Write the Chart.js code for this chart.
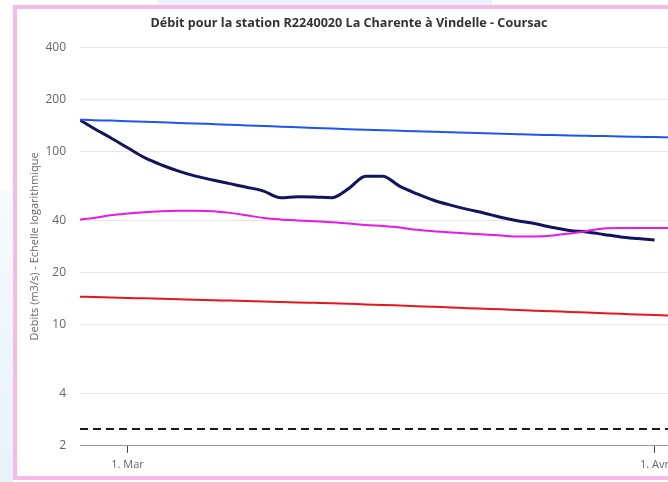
<!DOCTYPE html>
<html>
<head>
<meta charset="utf-8">
<script src="https://cdn.jsdelivr.net/npm/chart.js@4/dist/chart.umd.min.js"></script>
<style>
  html, body { margin: 0; padding: 0; background: #ffffff; overflow: hidden; width: 668px; height: 482px; }
  #bgLeft { position: absolute; left: 0; top: 190px; width: 13px; height: 292px; background: linear-gradient(#f6fbfe, #e6f2fa); }
  #bgTop { position: absolute; left: 158px; top: 0; width: 334px; height: 5px; background: #e9f4fb; }
  #wrap { position: absolute; left: 13px; top: 5px; width: 664px; height: 467px; border: 4px solid #f5b9ea; background: #ffffff; }
  canvas { display: block; }
</style>
</head>
<body>
<div id="bgLeft"></div>
<div id="bgTop"></div>
<div id="wrap"><canvas id="c" width="664" height="467"></canvas></div>
<script>
// Days relative to 1 March
const days = [-2.8, -2, -1, 0, 1, 2, 3, 4, 5, 6, 7, 8, 9, 10, 11, 12, 13, 14, 15, 16, 17, 18, 19, 20, 21, 22, 23, 24, 25, 26, 27, 28, 29, 30, 31, 32, 32.4];

const debitObserve = [152, 136, 120, 105, 92, 83.5, 77, 72, 68.4, 65.2, 62.2, 59, 54, 54.8, 54.6, 54, 61, 72, 72, 63, 57, 52.3, 49, 46.3, 44, 41.6, 39.7, 38.2, 36.4, 35, 34.3, 33.2, 32.1, 31.4, 30.8, null, null];

const courbeBleue = [152.5, 151.5, 150.6, 149.5, 148.3, 147.2, 146.0, 144.8, 143.8, 142.7, 141.3, 140.2, 138.9, 137.8, 136.7, 135.6, 134.5, 133.6, 132.5, 131.6, 130.7, 129.9, 129.0, 128.2, 127.3, 126.5, 125.6, 124.8, 124.3, 123.6, 123.1, 122.6, 122.0, 121.5, 121.0, 120.4, 120.2];

const courbeMagenta = [40.4, 41.3, 42.8, 43.8, 44.6, 45.1, 45.4, 45.5, 45.2, 44.2, 42.8, 41.3, 40.5, 40, 39.5, 39, 38.4, 37.6, 37.1, 36.4, 35.3, 34.6, 34.1, 33.6, 33.2, 32.7, 32.3, 32.3, 32.7, 33.6, 34.7, 35.9, 36.1, 36.1, 36.1, 36.1, 36.1];

const courbeRouge = [14.52, 14.44, 14.36, 14.27, 14.19, 14.10, 14.02, 13.95, 13.85, 13.78, 13.70, 13.61, 13.54, 13.45, 13.37, 13.29, 13.20, 13.09, 13.01, 12.90, 12.79, 12.68, 12.58, 12.46, 12.36, 12.26, 12.15, 12.05, 11.96, 11.84, 11.75, 11.65, 11.55, 11.46, 11.36, 11.27, 11.22];

const seuilPointille = [2.5, 2.5, 2.5, 2.5, 2.5, 2.5, 2.5, 2.5, 2.5, 2.5, 2.5, 2.5, 2.5, 2.5, 2.5, 2.5, 2.5, 2.5, 2.5, 2.5, 2.5, 2.5, 2.5, 2.5, 2.5, 2.5, 2.5, 2.5, 2.5, 2.5, 2.5, 2.5, 2.5, 2.5, 2.5, 2.5, 2.5];

const yTickValues = [2, 4, 10, 20, 40, 100, 200, 400];
const xTickValues = [0, 31];
const xTickLabels = ['1. Mar', '1. Avr'];

const titleText = 'Débit pour la station R2240020 La Charente à Vindelle - Coursac';
const yTitleText = 'Debits (m3/s) - Echelle logarithmique';

function pts(vals) { return days.map((d, i) => ({ x: d, y: vals[i] })); }

const FONT = "'Open Sans', 'Noto Sans', sans-serif";

new Chart(document.getElementById('c'), {
  type: 'line',
  data: {
    datasets: [
      { label: 'seuil', data: pts(seuilPointille), borderColor: '#1a1a1a', borderWidth: 2, borderDash: [8, 5], tension: 0 },
      { label: 'rouge', data: pts(courbeRouge), borderColor: '#e8151b', borderWidth: 2, cubicInterpolationMode: 'monotone' },
      { label: 'magenta', data: pts(courbeMagenta), borderColor: '#e619e6', borderWidth: 2, cubicInterpolationMode: 'monotone' },
      { label: 'bleue', data: pts(courbeBleue), borderColor: '#1f55f5', borderWidth: 2, cubicInterpolationMode: 'monotone' },
      { label: 'observé', data: pts(debitObserve), borderColor: '#13135f', borderWidth: 3, cubicInterpolationMode: 'monotone' }
    ]
  },
  options: {
    responsive: false,
    animation: false,
    events: [],
    elements: { point: { radius: 0 } },
    layout: { padding: { left: 4, right: 4, top: 0, bottom: 0 } },
    plugins: {
      legend: { display: false },
      tooltip: { enabled: false },
      title: {
        display: true,
        text: titleText,
        color: '#333333',
        font: { family: FONT, size: 12.6, weight: 'bold' },
        padding: { top: 7, bottom: 16 }
      }
    },
    scales: {
      x: {
        type: 'linear',
        min: -2.8,
        max: 32.32,
        afterBuildTicks: (s) => { s.ticks = xTickValues.map(v => ({ value: v })); },
        ticks: {
          autoSkip: false,
          maxRotation: 0,
          padding: 5,
          color: '#666666',
          font: { family: FONT, size: 11 },
          callback: (v) => { const i = xTickValues.indexOf(v); return i >= 0 ? xTickLabels[i] : ''; }
        },
        grid: { drawOnChartArea: false, drawTicks: true, tickLength: 7, color: '#444444' },
        border: { display: true, color: '#999999', width: 1 }
      },
      y: {
        type: 'logarithmic',
        min: 2,
        max: 400,
        afterBuildTicks: (s) => { s.ticks = yTickValues.map(v => ({ value: v })); },
        afterFit: (s) => { s.width = 59; },
        ticks: {
          autoSkip: false,
          padding: 14,
          color: '#666666',
          font: { family: FONT, size: 12 },
          callback: (v) => String(v)
        },
        grid: {
          drawTicks: false,
          color: (ctx) => (ctx.tick && ctx.tick.value === 2) ? 'rgba(0,0,0,0)' : '#e6e6e6'
        },
        border: { display: false },
        title: {
          display: true,
          text: yTitleText,
          color: '#666666',
          font: { family: FONT, size: 11 },
          padding: { top: 7, bottom: 4 }
        }
      }
    }
  }
});
</script>
</body>
</html>
